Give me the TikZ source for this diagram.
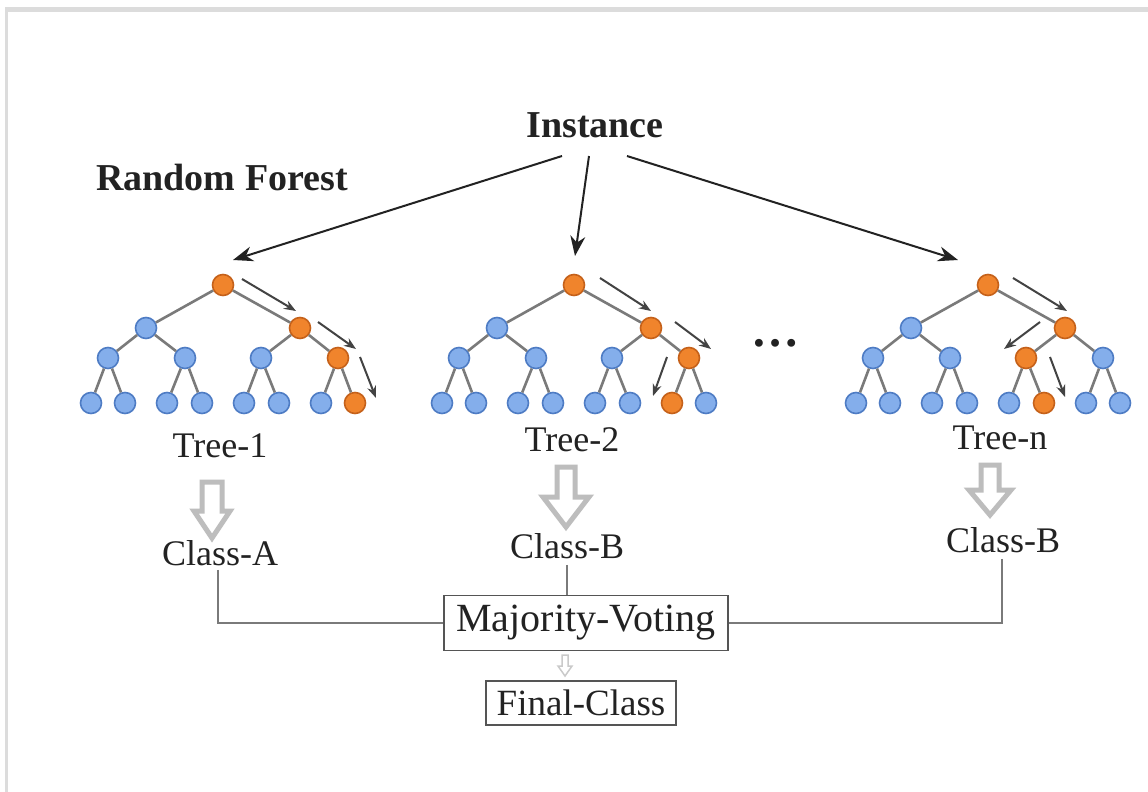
\documentclass[tikz,border=0pt]{standalone}
\usepackage{fontspec}
\setmainfont{Liberation Serif}
\usetikzlibrary{arrows.meta,calc}

\definecolor{frame}{HTML}{DCDCDC}
\definecolor{ink}{HTML}{222222}
\definecolor{edgegray}{HTML}{7A7A7A}
\definecolor{nodeblue}{HTML}{84AEEB}
\definecolor{nodeblueline}{HTML}{4E7CC4}
\definecolor{nodeorange}{HTML}{F0842C}
\definecolor{nodeorangeline}{HTML}{C5611A}
\definecolor{blockgray}{HTML}{BDBDBD}
\definecolor{boxline}{HTML}{555555}

\tikzset{
  rfn/.style={circle, minimum size=21pt, inner sep=0pt, line width=1.6pt},
  treeedge/.style={draw=edgegray, line width=2.6pt},
  walk/.style={draw=ink!85, line width=2pt, -{Stealth[length=12pt,width=9pt]}},
  feed/.style={draw=ink, line width=2pt, -{Stealth[length=20pt,width=15pt]}},
  lbl/.style={text=ink, font=\fontsize{36}{40}\selectfont, inner sep=0pt},
  head/.style={text=ink, font=\fontsize{38}{42}\selectfont\bfseries, inner sep=0pt},
  rfbox/.style={draw=boxline, line width=1.6pt, fill=white, text=ink,
    font=\fontsize{40}{44}\selectfont, inner xsep=10pt},
  link/.style={draw=edgegray, line width=1.6pt},
  hollow/.style={draw=blockgray, fill=white, line width=5pt, line join=miter},
}

% one binary tree of depth 3: #1 name prefix, #2 root x, #3 highlighted heap indices
\newcommand\rftree[3]{%
  \foreach \k/\dx/\y in {0/0/285, 1/-77/328, 2/77/328,
      3/-115/358, 4/-38/358, 5/38/358, 6/115/358,
      7/-132/403, 8/-98/403, 9/-56/403, 10/-21/403,
      11/21/403, 12/56/403, 13/98/403, 14/132/403}{%
    \gdef\rffill{nodeblue}\gdef\rfline{nodeblueline}%
    \foreach \o in {#3}{\ifnum\k=\o\relax\gdef\rffill{nodeorange}\gdef\rfline{nodeorangeline}\fi}%
    \node[rfn, fill=\rffill, draw=\rfline] (#1-\k) at (#2+\dx,\y) {};
  }
  \foreach \p in {0,...,6}{%
    \pgfmathtruncatemacro\ca{2*\p+1}%
    \pgfmathtruncatemacro\cb{2*\p+2}%
    \draw[treeedge] (#1-\p) -- (#1-\ca);
    \draw[treeedge] (#1-\p) -- (#1-\cb);
  }
}

% hollow block arrow pointing down: #1 centre x, #2 top, #3 head base, #4 tip, #5 shaft half width, #6 head half width
\newcommand\blockdown[6]{%
  \draw[hollow] (#1-#5,#2) -- (#1+#5,#2) -- (#1+#5,#3) -- (#1+#6,#3) -- (#1,#4)
    -- (#1-#6,#3) -- (#1-#5,#3) -- cycle;
}

\begin{document}
\begin{tikzpicture}[x=1pt,y=-1pt]
\useasboundingbox (0,0) rectangle (1148,792);
\fill[white] (0,0) rectangle (1148,792);

% page frame
\fill[frame] (5,7) rectangle (1148,12);
\fill[frame] (5,7) rectangle (8,792);

% titles
\node[head] (inst) at (595,125) {Instance};
\node[head] (rf) at (222,178) {Random Forest};

% the trees
\rftree{ta}{223}{0,2,6,14}
\rftree{tb}{574}{0,2,6,13}
\rftree{tn}{988}{0,2,5,12}

\node[text=ink, font=\fontsize{48}{48}\selectfont\bfseries] (dots) at (775,343) {\dots};

% instance fed to every tree
\coordinate (ia) at (562,156);
\coordinate (ib) at (589,156);
\coordinate (ic) at (627,156);
\coordinate (ea) at (233,260);
\coordinate (eb) at (575,256);
\coordinate (ec) at (958,260);
\draw[feed] (ia) -- (ea);
\draw[feed] (ib) -- (eb);
\draw[feed] (ic) -- (ec);

% decision paths
\coordinate (a1s) at (242,279); \coordinate (a1e) at (296,311);
\coordinate (a2s) at (318,322); \coordinate (a2e) at (356,349);
\coordinate (a3s) at (360,357); \coordinate (a3e) at (376,398);
\draw[walk] (a1s) -- (a1e);
\draw[walk] (a2s) -- (a2e);
\draw[walk] (a3s) -- (a3e);

\coordinate (b1s) at (600,278); \coordinate (b1e) at (651,311);
\coordinate (b2s) at (675,322); \coordinate (b2e) at (711,349);
\coordinate (b3s) at (667,357); \coordinate (b3e) at (653,396);
\draw[walk] (b1s) -- (b1e);
\draw[walk] (b2s) -- (b2e);
\draw[walk] (b3s) -- (b3e);

\coordinate (n1s) at (1013,278); \coordinate (n1e) at (1067,311);
\coordinate (n2s) at (1040,322); \coordinate (n2e) at (1004,349);
\coordinate (n3s) at (1050,357); \coordinate (n3e) at (1065,397);
\draw[walk] (n1s) -- (n1e);
\draw[walk] (n2s) -- (n2e);
\draw[walk] (n3s) -- (n3e);

% tree labels
\node[lbl] (la) at (220,446) {Tree-1};
\node[lbl] (lb) at (572,440) {Tree-2};
\node[lbl] (ln) at (1000,438) {Tree-n};

% outputs
\blockdown{212}{482}{511}{538}{10}{18}
\blockdown{566}{467}{497}{527}{9}{23}
\blockdown{990}{465}{490}{515}{9}{21}

\node[lbl] (ca) at (220,553) {Class-A};
\node[lbl] (cb) at (567,546) {Class-B};
\node[lbl] (cn) at (1003,540) {Class-B};

% voting
\node[rfbox, minimum width=284pt, minimum height=55pt] (mv) at (586,623) {Majority-Voting};
\node[rfbox, font=\fontsize{37}{40}\selectfont, minimum width=190pt, minimum height=44pt] (fc) at (581,703) {Final-Class};

\draw[link] ([yshift=-4pt]ca.south -| 218,0) |- (mv.west);
\draw[link] (cn.south -| 1002,0) ++(0,6) |- (mv.east);
\draw[link] (cb.south -| 567,0) ++(0,6) -- (mv.north -| 567,0);

\draw[draw=blockgray!80, fill=white, line width=1.5pt]
  (562,655) -- (568,655) -- (568,666) -- (572,666) -- (565,676) -- (558,666) -- (562,666) -- cycle;
\end{tikzpicture}
\end{document}
